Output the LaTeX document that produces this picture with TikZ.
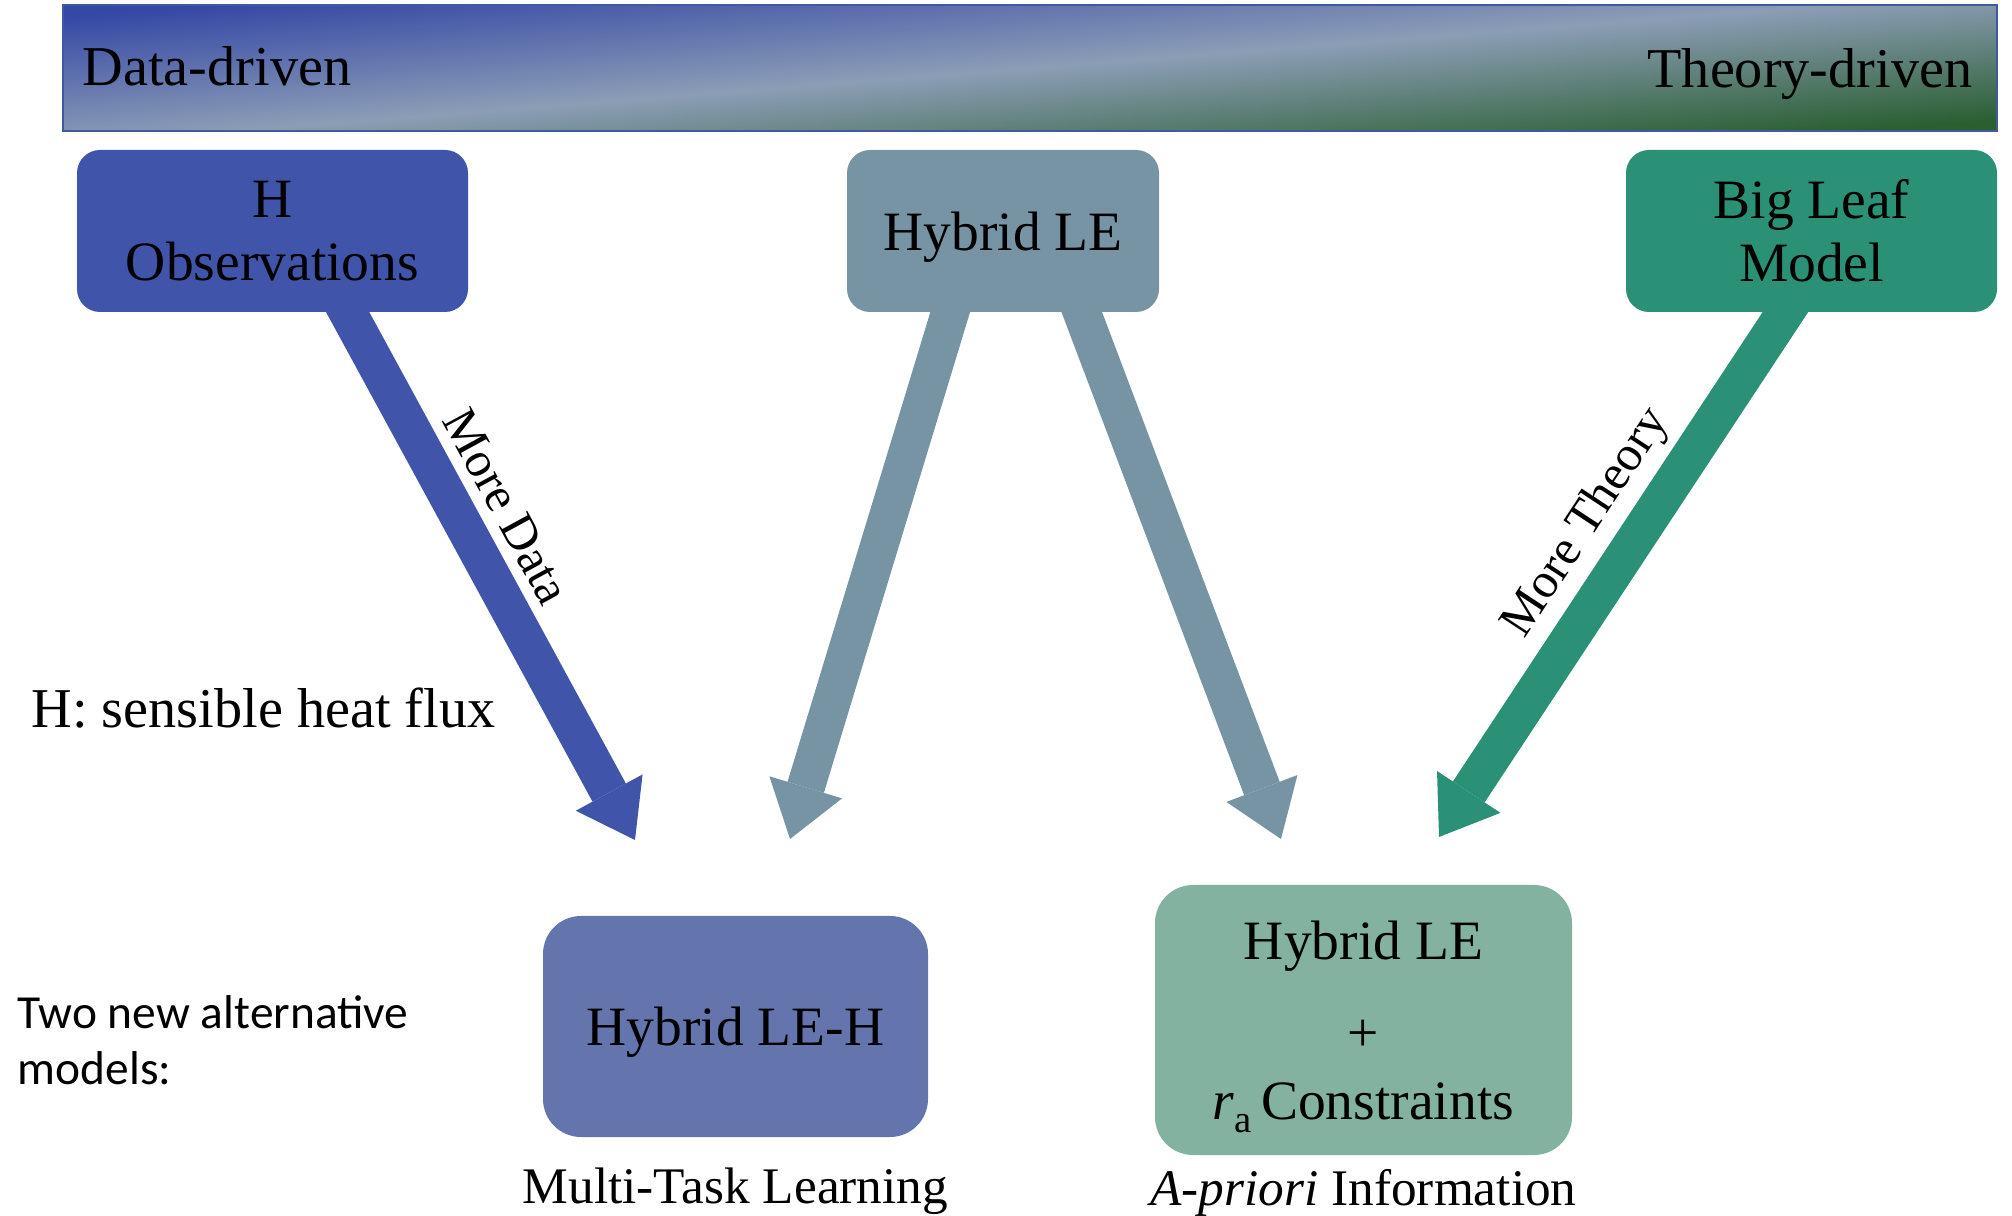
\documentclass[tikz,border=0pt]{standalone}
\usepackage{fontspec}
\setmainfont{Liberation Serif}
\newfontfamily\calibrifont{Carlito}
\usepackage{xcolor}
\usepackage{tikz}
\usetikzlibrary{arrows.meta,positioning,calc,backgrounds}

\definecolor{obsblue}{RGB}{64,85,170}
\definecolor{hybgray}{RGB}{119,148,164}
\definecolor{leafgreen}{RGB}{42,145,118}
\definecolor{lehblue}{RGB}{100,117,174}
\definecolor{ragreen}{RGB}{131,179,160}
\definecolor{bartop}{RGB}{52,72,165}
\definecolor{barmid}{RGB}{140,157,182}
\definecolor{barbot}{RGB}{42,95,50}
\definecolor{barline}{RGB}{63,90,158}

\begin{document}
\begin{tikzpicture}[
  font=\fontsize{15.8}{18}\selectfont,
  box/.style={fill=#1, rounded corners=0.23cm, align=center, inner sep=0pt, minimum height=1.62cm},
  model/.style={fill=#1, rounded corners=0.38cm, align=center, inner sep=0pt, text depth=0pt},
  fat/.style={draw=#1, line width=0.38cm, -{Triangle[length=0.54cm, width=0.76cm, line width=0pt]}, shorten <=-0.3cm},
  lbl/.style={font=\fontsize{14.1}{17}\selectfont, inner sep=0pt},
  sub/.style={font=\fontsize{14.6}{17}\selectfont, inner sep=0pt},
  big/.style={font=\fontsize{16}{19}\selectfont, inner sep=0pt},
]
\useasboundingbox (0,0) rectangle (20.12,12.15);
\node[draw=barline, line width=0.6pt, top color=bartop, bottom color=barbot, middle color=barmid, shading angle=4.5, minimum width=19.34cm, minimum height=1.26cm, inner sep=0pt] (bar) at (10.30,11.47) {};
\node[big, anchor=base west] (ddrv) at (0.82,11.29) {Data-driven};
\node[big, anchor=base east] (tdrv) at (19.73,11.27) {Theory-driven};
\node[box=obsblue, minimum width=3.91cm] (hobs) at (2.725,9.84) {H\\Observations};
\node[box=hybgray, minimum width=3.12cm, text depth=0pt] (hle) at (10.03,9.84) {Hybrid LE};
\node[box=leafgreen, minimum width=3.71cm] (leaf) at (18.115,9.84) {Big Leaf\\Model};
\node[model=lehblue, minimum width=3.85cm, minimum height=2.21cm] (leh) at (7.355,1.885) {Hybrid LE-H};
\node[model=ragreen, minimum width=4.17cm, minimum height=2.70cm, font=\fontsize{15.8}{22.8}\selectfont] (lera) at (13.635,1.95) {Hybrid LE\\\raisebox{-0.12cm}{+}\\\textit{r}\raisebox{-3.7pt}{\fontsize{11}{11}\selectfont a}\,Constraints};
\node[sub, below=0.29cm of leh] (mtl) {Multi-Task Learning};
\node[sub, below=0.13cm of lera] (apriori) {\textit{A-priori} Information};
\node[big, anchor=base west] (hdef) at (0.31,4.87) {H: sensible heat flux};
\node[anchor=north west, align=left, inner sep=0pt, font=\calibrifont\fontsize{13.5}{15.9}\selectfont] (twonew) at (0.17,2.20) {Two new alternative\\models:};
\coordinate (tipdata) at (6.35,3.75);
\coordinate (tipmtl) at (7.90,3.76);
\coordinate (tipra) at (12.81,3.76);
\coordinate (tiptheory) at (14.39,3.78);
\begin{scope}[on background layer]
\draw[fat=obsblue] ($(hobs.south)+(0.755,0)$) -- node[lbl, sloped, above=0.11cm, pos=0.41] (moredata) {More Data} (tipdata);
\draw[fat=hybgray] ($(hle.south)+(-0.53,0)$) -- (tipmtl);
\draw[fat=hybgray] ($(hle.south)+(0.79,0)$) -- (tipra);
\draw[fat=leafgreen] ($(leaf.south)+(-0.265,0)$) -- node[lbl, sloped, above=0.08cm, pos=0.454] (moretheory) {More Theory} (tiptheory);
\end{scope}
\end{tikzpicture}
\end{document}
